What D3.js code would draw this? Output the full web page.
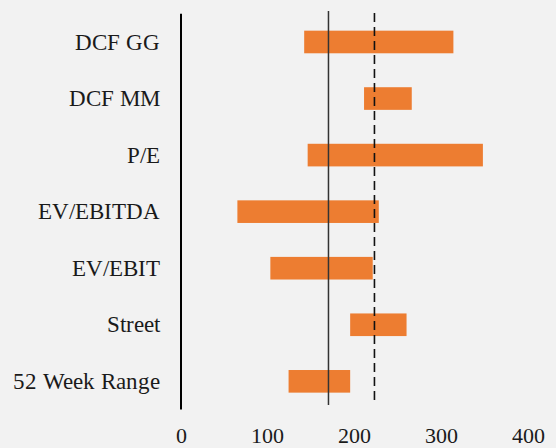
<!DOCTYPE html>
<html><head><meta charset="utf-8">
<script src="https://cdn.jsdelivr.net/npm/d3@7"></script>
<style>
@font-face{font-family:"ChartSerif";src:local("Liberation Serif"),local("LiberationSerif-Regular"),local("LiberationSerif"),local("DejaVu Serif"),local("DejaVuSerif"),local("Tinos"),local("Times New Roman");}
html,body{margin:0;padding:0;background:#f2f2f2;}
svg{display:block;}
</style></head>
<body>
<script>
const categories = ["DCF GG","DCF MM","P/E","EV/EBITDA","EV/EBIT","Street","52 Week Range"];
const lowValues  = [142, 211, 146, 65, 103, 195, 124];
const highValues = [314, 266, 348, 228, 221, 260, 195];
const currentPrice = 170;
const targetPrice = 223;
const xTicks = [0,100,200,300,400];

const FONT = "ChartSerif, 'Liberation Serif', 'DejaVu Serif', serif";
const W = 556, H = 448;
const svg = d3.select("body").append("svg").attr("width",W).attr("height",H);
svg.append("rect").attr("width",W).attr("height",H).attr("fill","#f2f2f2");

const x = d3.scaleLinear().domain([0,400]).range([181,528]);
const y = d3.scaleBand().domain(categories).range([13.7,409.6]).paddingInner(0.6).paddingOuter(0.3);

const data = categories.map((c,i)=>({c, lo:lowValues[i], hi:highValues[i]}));

svg.append("g").selectAll("rect").data(data).join("rect")
  .attr("x",d=>x(d.lo)).attr("width",d=>x(d.hi)-x(d.lo))
  .attr("y",d=>y(d.c)).attr("height",y.bandwidth())
  .attr("fill","#ED7D31");

// y axis line
svg.append("line").attr("x1",x(0)).attr("x2",x(0))
  .attr("y1",y.range()[0]).attr("y2",y.range()[1])
  .attr("stroke","#000").attr("stroke-width",2);

// category labels
svg.append("g").selectAll("text").data(categories).join("text")
  .attr("x",x(0)-21).attr("y",d=>y(d)+y.bandwidth()/2)
  .attr("dy","0.33em").attr("text-anchor","end")
  .style("font-family",FONT).attr("fill","#1a1a1a")
  .attr("font-size",23).text(d=>d);

// x tick labels
svg.append("g").selectAll("text").data(xTicks).join("text")
  .attr("x",d=>x(d)).attr("y",443).attr("text-anchor","middle")
  .style("font-family",FONT).attr("fill","#1a1a1a")
  .attr("font-size",22).text(d=>d);

// reference lines
svg.append("line").attr("x1",x(currentPrice)).attr("x2",x(currentPrice))
  .attr("y1",11).attr("y2",405).attr("stroke","#333").attr("stroke-width",1.5);
svg.append("line").attr("x1",x(targetPrice)).attr("x2",x(targetPrice))
  .attr("y1",13).attr("y2",405).attr("stroke","#111").attr("stroke-width",1.6)
  .attr("stroke-dasharray","9,5");
</script>
</body></html>
